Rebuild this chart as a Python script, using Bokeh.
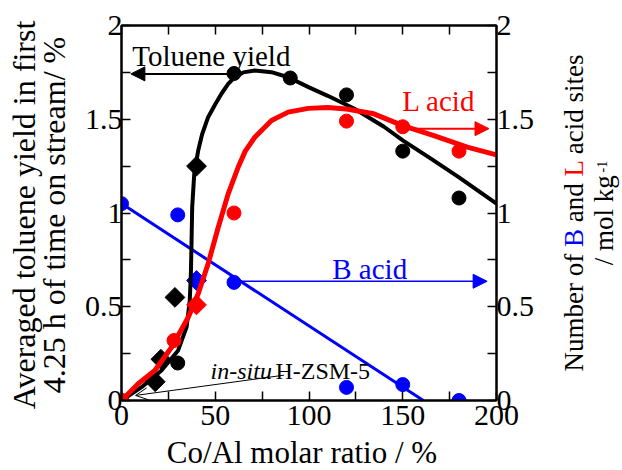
import numpy as np
from bokeh.plotting import figure
from bokeh.layouts import row, column
from bokeh.models import (Range1d, LinearAxis, FixedTicker, Label, Arrow, Div,
                          NormalHead, OpenHead, CustomJSTickFormatter)
from bokeh.embed import file_html
from bokeh.resources import INLINE

# ---------------- data ----------------
# Toluene yield (left axis)
toluene_x = [0, 30, 60, 90, 120, 150, 180]
toluene_y = [0.0, 0.20, 1.744, 1.72, 1.63, 1.33, 1.08]
toluene_insitu_x = [18, 21, 28.5, 40]
toluene_insitu_y = [0.10, 0.22, 0.55, 1.25]
toluene_fit_x = [0, 10.7, 21.3, 30.2, 34.7, 36.4, 37.0, 37.3, 37.7, 38.8, 40.9, 43.0,
                 46.2, 50.0, 53.3, 57.0, 60.4, 65.0, 71.1, 80.0, 88.9, 100.0, 110.0,
                 124.0, 140.0, 150.0, 165.0, 180.0, 200.0]
toluene_fit_y = [0, 0.071, 0.16, 0.267, 0.391, 0.533, 0.676, 0.818, 1.031, 1.209, 1.333, 1.42,
                 1.511, 1.58, 1.636, 1.69, 1.724, 1.75, 1.76, 1.751, 1.724, 1.67, 1.625,
                 1.557, 1.46, 1.387, 1.29, 1.19, 1.05]

# L acid (right axis)
l_acid_x = [0, 28, 60, 120, 150, 180]
l_acid_y = [0.0, 0.32, 1.0, 1.49, 1.46, 1.33]
l_acid_insitu_x = [40]
l_acid_insitu_y = [0.51]
l_fit_x = [0, 8.9, 17.8, 26.7, 35.6, 40.9, 46.2, 51.6, 56.9, 62.2, 66.0, 71.1, 80.0,
           88.9, 99.6, 110.0, 120.0, 134.6, 150.0, 166.6, 184.4, 200.0]
l_fit_y = [0, 0.089, 0.16, 0.284, 0.444, 0.569, 0.729, 0.924, 1.102, 1.244, 1.33, 1.404, 1.493,
           1.538, 1.558, 1.563, 1.555, 1.529, 1.466, 1.413, 1.351, 1.31]

# B acid (right axis)
b_acid_x = [0, 30, 60, 120, 150, 180]
b_acid_y = [1.05, 0.99, 0.63, 0.07, 0.085, 0.0]
b_acid_insitu_x = [40]
b_acid_insitu_y = [0.64]
b_fit_x = [0, 161]
b_fit_y = [1.05, 0.0]

x_ticks = [0, 50, 100, 150, 200]
x_minor_ticks = [25, 75, 125, 175]
y_ticks = [0, 0.5, 1, 1.5, 2]
y_minor_ticks = [0.25, 0.75, 1.25, 1.75]

x_title = "Co/Al molar ratio / %"

# ---------------- layout constants ----------------
SERIF = "Liberation Serif"
BLUE = "#0000ff"
RED = "#ff0000"
TOTAL_W, TOTAL_H = 622, 470
H = 435                      # height of the plot row
BOTTOM_H = TOTAL_H - H       # strip holding the x-axis title
LEFT_W, RIGHT_W = 72, 82
MAIN_W = TOTAL_W - LEFT_W - RIGHT_W
FRAME_L, FRAME_R, FRAME_T, FRAME_B = 121, 496, 25, 400

# ---------------- main figure ----------------
p = figure(width=MAIN_W, height=H, x_range=Range1d(0, 200), y_range=Range1d(0, 2),
           output_backend="svg", toolbar_location=None,
           min_border_left=FRAME_L - LEFT_W, min_border_right=(TOTAL_W - RIGHT_W) - FRAME_R,
           min_border_top=FRAME_T, min_border_bottom=H - FRAME_B)
p.extra_y_ranges = {"right": Range1d(0, 2)}
p.add_layout(LinearAxis(y_range_name="right"), "right")
p.add_layout(LinearAxis(), "above")
p.xgrid.visible = False
p.ygrid.visible = False
p.outline_line_color = "black"
p.outline_line_width = 2
p.background_fill_color = "white"
p.border_fill_color = "white"

fmt = CustomJSTickFormatter(code="return String(Math.round(tick*100)/100)")
for ax in p.axis:
    ax.axis_line_color = "black"
    ax.axis_line_width = 2
    ax.major_tick_in = 9
    ax.major_tick_out = 0
    ax.minor_tick_in = 9
    ax.minor_tick_out = 0
    ax.major_tick_line_width = 1.5
    ax.minor_tick_line_width = 1.5
    ax.major_label_text_font = SERIF
    ax.major_label_text_font_size = "30px"
    ax.major_label_text_color = "black"
    ax.formatter = fmt

for ax in p.xaxis:
    ax.ticker = FixedTicker(ticks=x_ticks, minor_ticks=x_minor_ticks)
for ax in p.yaxis:
    ax.ticker = FixedTicker(ticks=y_ticks, minor_ticks=y_minor_ticks)

p.below[0].major_label_standoff = 5
top = p.above[0]
top.formatter = CustomJSTickFormatter(code="return ''")
top.major_label_standoff = 0
p.left[0].major_label_standoff = -1
p.right[0].major_label_standoff = 0

# ---------------- glyphs ----------------
# B acid (blue)
p.line(b_fit_x, b_fit_y, line_color=BLUE, line_width=3, y_range_name="right")
p.scatter(b_acid_x, b_acid_y, size=14, color=BLUE, y_range_name="right")
p.scatter(b_acid_insitu_x, b_acid_insitu_y, marker="square", angle=np.pi/4, size=14,
          color=BLUE, y_range_name="right")

# Toluene yield (black)
p.line(toluene_fit_x, toluene_fit_y, line_color="black", line_width=4)
p.scatter(toluene_x, toluene_y, size=14, color="black")
p.scatter(toluene_insitu_x, toluene_insitu_y, marker="square", angle=np.pi/4, size=14,
          color="black")

# L acid (red)
p.line(l_fit_x, l_fit_y, line_color=RED, line_width=5, y_range_name="right")
p.scatter(l_acid_x, l_acid_y, size=14, color=RED, y_range_name="right")
p.scatter(l_acid_insitu_x, l_acid_insitu_y, marker="square", angle=np.pi/4, size=14,
          color=RED, y_range_name="right")

# ---------------- arrows & in-plot texts ----------------
p.add_layout(Arrow(end=NormalHead(size=14, fill_color="black", line_color="black"),
                   x_start=60, y_start=1.742, x_end=5, y_end=1.742,
                   line_color="black", line_width=2))
p.add_layout(Arrow(end=NormalHead(size=14, fill_color=RED, line_color=RED),
                   x_start=150, y_start=1.45, x_end=196, y_end=1.45,
                   line_color=RED, line_width=2, y_range_name="right"))
p.add_layout(Arrow(end=NormalHead(size=14, fill_color=BLUE, line_color=BLUE),
                   x_start=60, y_start=0.636, x_end=195, y_end=0.636,
                   line_color=BLUE, line_width=1.5, y_range_name="right"))
p.add_layout(Arrow(end=OpenHead(size=12, line_color="black", line_width=1),
                   x_start=86.6, y_start=0.135, x_end=7.5, y_end=0.027,
                   line_color="black", line_width=1))


def txt(fig, x, y, s, size, color="black", style="normal"):
    fig.add_layout(Label(x=x, y=y, text=s, text_font=SERIF, text_font_size=size,
                         text_color=color, text_font_style=style,
                         text_align="left", text_baseline="alphabetic"))


txt(p, 5.7, 1.84, "Toluene yield", "29px")
txt(p, 149.7, 1.60, "L acid", "29px", RED)
txt(p, 112.4, 0.702, "B acid", "29px", BLUE)
txt(p, 47.5, 0.16, "in-situ", "24px", style="italic")
txt(p, 82.1, 0.16, "H-ZSM-5", "24px")


# ---------------- axis titles (HTML, real text) ----------------
def rotated_block(w, cx, cy, inner, font_px, line_px):
    html = (
        f'<div style="position:relative;width:{w}px;height:{H}px;overflow:hidden;">'
        f'<div style="position:absolute;left:{cx}px;top:{cy}px;'
        f'transform:translate(-50%,-50%) rotate(-90deg);white-space:nowrap;'
        f"text-align:center;font-family:'{SERIF}',serif;font-size:{font_px}px;"
        f'line-height:{line_px}px;color:black;">{inner}</div></div>'
    )
    return Div(text=html, width=w, height=H, margin=(0, 0, 0, 0),
               styles={"overflow": "hidden"})


left_div = rotated_block(LEFT_W, 39, 215,
                         "Averaged toluene yield in first<br>4.25 h of time on stream/ %",
                         32, 30)
right_inner = (
    f'Number of <span style="color:{BLUE}">B</span> and '
    f'<span style="color:{RED}">L</span> acid sites<br>'
    '/ mol kg<span style="font-size:14px;line-height:0;position:relative;top:-6px;">'
    '&thinsp;-1</span>'
)
right_div = rotated_block(RIGHT_W, 48.9, 213, right_inner, 27, 30)

bottom_html = (
    f'<div style="position:relative;width:{TOTAL_W}px;height:{BOTTOM_H}px;overflow:hidden;">'
    f'<div style="position:absolute;left:302px;top:0px;transform:translateX(-50%);'
    f"white-space:nowrap;font-family:'{SERIF}',serif;font-size:31px;line-height:35px;"
    f'color:black;">{x_title}</div></div>'
)
bottom_div = Div(text=bottom_html, width=TOTAL_W, height=BOTTOM_H, margin=(0, 0, 0, 0),
                 styles={"overflow": "hidden"})

layout = column(row(left_div, p, right_div, spacing=0), bottom_div, spacing=0)
open("out.html", "w").write(file_html(layout, INLINE))
